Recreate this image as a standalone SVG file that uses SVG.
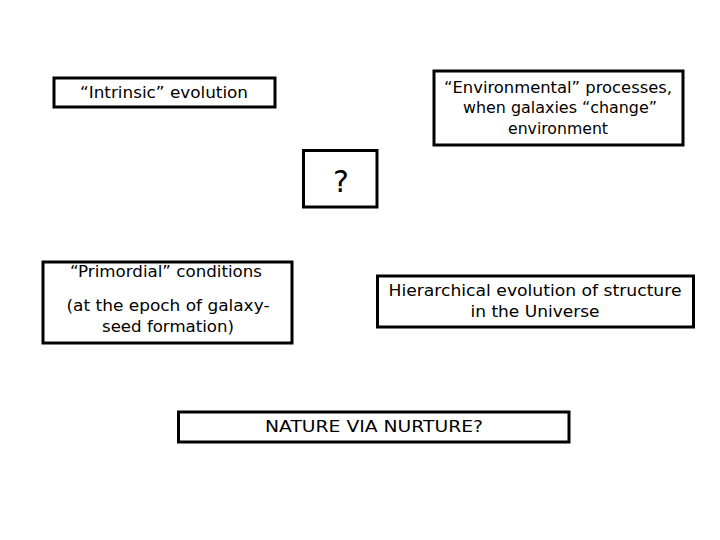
<svg xmlns="http://www.w3.org/2000/svg" width="720" height="540" viewBox="0 0 720 540">
<style>
.box{fill:#fff;stroke:#000;stroke-width:3}
text{font-family:"DejaVu Sans","Liberation Sans",sans-serif;font-size:16px;fill:#000;text-anchor:middle}
.big{font-size:30px}
</style>
<rect width="720" height="540" fill="#fff"/>
<g id="intrinsic">
<rect class="box" x="54" y="78" width="221" height="29"/>
<text x="164" y="98" textLength="168" lengthAdjust="spacingAndGlyphs">“Intrinsic” evolution</text>
</g>
<g id="environmental">
<rect class="box" x="434" y="71" width="249" height="74"/>
<text x="558" y="93" textLength="228" lengthAdjust="spacingAndGlyphs">“Environmental” processes,</text>
<text x="560" y="113" textLength="194" lengthAdjust="spacingAndGlyphs">when galaxies “change”</text>
<text x="558" y="134" textLength="100" lengthAdjust="spacingAndGlyphs">environment</text>
</g>
<g id="question">
<rect class="box" x="303.5" y="150.5" width="73.5" height="56.5"/>
<text class="big" x="341" y="192">?</text>
</g>
<g id="primordial">
<rect class="box" x="43" y="262" width="249" height="81"/>
<text x="166" y="277" textLength="192" lengthAdjust="spacingAndGlyphs">“Primordial” conditions</text>
<text x="168" y="311" textLength="203" lengthAdjust="spacingAndGlyphs">(at the epoch of galaxy-</text>
<text x="168" y="332" textLength="132" lengthAdjust="spacingAndGlyphs">seed formation)</text>
</g>
<g id="hierarchical">
<rect class="box" x="377.5" y="276" width="316" height="51"/>
<text x="535" y="296" textLength="293" lengthAdjust="spacingAndGlyphs">Hierarchical evolution of structure</text>
<text x="535" y="317" textLength="129" lengthAdjust="spacingAndGlyphs">in the Universe</text>
</g>
<g id="nature">
<rect class="box" x="178.5" y="412" width="390.5" height="30"/>
<text x="374" y="432" textLength="218" lengthAdjust="spacingAndGlyphs">NATURE VIA NURTURE?</text>
</g>
<g id="connectors"></g>
</svg>
